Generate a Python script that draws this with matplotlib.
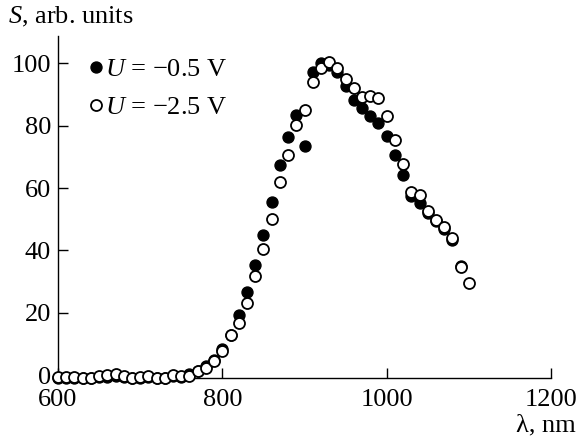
import numpy as np
import matplotlib
matplotlib.use("Agg")
import matplotlib.pyplot as plt

plt.rcParams['font.family'] = ['Liberation Serif', 'DejaVu Serif']
plt.rcParams['mathtext.fontset'] = 'custom'
plt.rcParams['mathtext.rm'] = 'Liberation Serif'
plt.rcParams['mathtext.it'] = 'Liberation Serif:italic'

# Data
wl_open = list(range(600, 1101, 10))
s_open = [-0.6, -0.5, -0.5, -0.8, -0.8, -0.3, 0.0, 0.5, -0.3, -0.8,
          -0.5, -0.3, -0.8, -0.8, 0.0, -0.3, -0.2, 1.2, 2.4, 4.4,
          7.9, 12.9, 16.9, 23.3, 31.8, 40.4, 50.0, 62.1, 70.6, 80.2,
          85.0, 94.1, 98.4, 100.5, 98.4, 94.9, 92.0, 89.3, 89.5, 88.8,
          83.1, 75.4, 67.7, 58.8, 57.8, 52.8, 49.8, 47.6, 43.9, 34.6,
          29.5]
wl_fill = list(range(600, 1091, 10))
s_fill = [-1.0, -0.8, -0.9, -1.0, -0.9, -0.7, -0.5, -0.3, -0.7, -1.0,
          -0.8, -0.6, -1.0, -0.9, -0.4, -0.6, 0.3, 1.5, 3.0, 4.8,
          8.5, 13.0, 19.3, 26.8, 35.4, 45.0, 55.6, 67.4, 76.5, 83.4,
          73.5, 97.3, 100.0, 99.5, 97.3, 92.7, 88.2, 85.6, 83.1, 80.8,
          76.7, 70.5, 64.2, 57.5, 55.1, 51.9, 49.5, 47.0, 43.4, 35.0]
labels = [r"$U$ = −0.5 V", r"$U$ = −2.5 V"]
xticks = [600, 800, 1000, 1200]
yticks = [0, 20, 40, 60, 80, 100]

W, H = 581, 440
FS = 19
fig = plt.figure(figsize=(W/100, H/100), dpi=100)
ax = fig.add_axes([58/W, 1-378/H, (551-58)/W, (378-36)/H])

ms = 7.9
ax.plot(wl_fill, s_fill, 'o', ls='none', color='black', ms=ms,
        mec='black', mew=1.0, label=labels[0], zorder=3, clip_on=False)
ax.plot(wl_open, s_open, 'o', ls='none', mfc='white', mec='black', ms=ms,
        mew=1.3, label=labels[1], zorder=4, clip_on=False)

ax.set_xlim(600, 1200)
ax.set_ylim(-0.9, 108.8)
ax.set_xticks(xticks)
ax.set_yticks(yticks)
for s in ['top', 'right']:
    ax.spines[s].set_visible(False)
for s in ['left', 'bottom']:
    ax.spines[s].set_linewidth(1.0)
ax.tick_params(direction='in', length=7.2, width=1.0, labelsize=FS)
ax.tick_params(axis='y', pad=5)
ax.tick_params(axis='x', pad=8)

fig.text(8/W, 1-17/H, r"$S$, arb. units", fontsize=FS, ha='left', va='center')
fig.text(576/W, 1-425/H, "λ, nm", fontsize=FS, ha='right', va='center')

leg = ax.legend(loc='upper left', bbox_to_anchor=(90.7/W, 1-58/H),
                bbox_transform=fig.transFigure, frameon=False, fontsize=FS,
                handlelength=0.4, handletextpad=0.15, borderpad=0,
                borderaxespad=0, labelspacing=0.55, numpoints=1)

fig.savefig("out.png", dpi=100)
